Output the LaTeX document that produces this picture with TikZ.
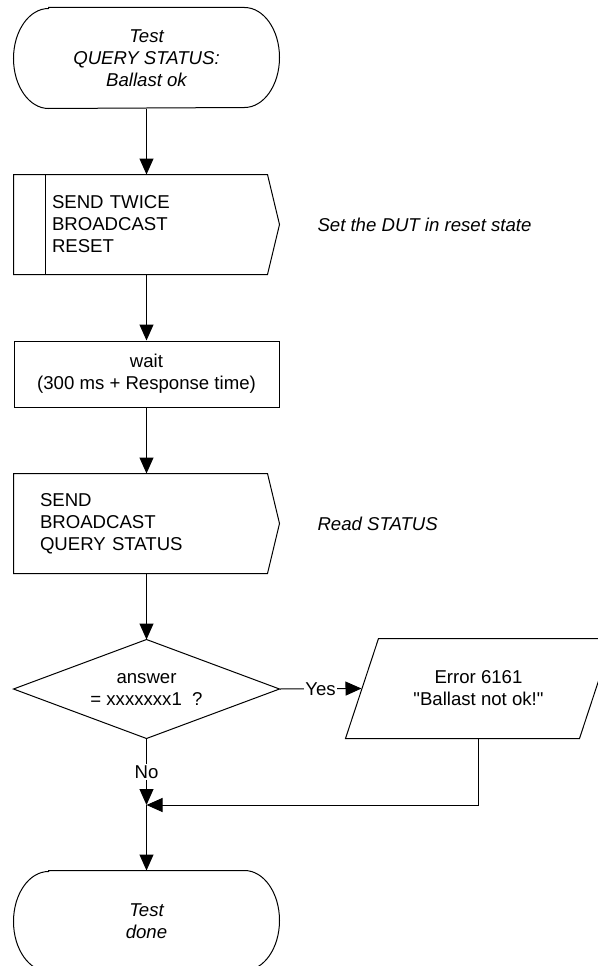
\documentclass[tikz,border=0pt]{standalone}
\usepackage{fontspec}
\setmainfont{Liberation Sans}[Ligatures=TeXOff]
\usetikzlibrary{arrows.meta,calc}
\begin{document}
\begin{tikzpicture}[x=1pt,y=-1pt,line width=1pt,
  every node/.style={font=\fontsize{18.6}{22}\selectfont, inner sep=0pt},
  itxt/.style={font=\fontsize{18.6}{22}\selectfont\itshape},
  shapebox/.style={rectangle, minimum width=265pt, minimum height=#1},
  arr/.style={-{Triangle[width=14pt,length=16pt]}},
  lbl/.style={fill=white, inner sep=1.5pt}]
\useasboundingbox (0,0) rectangle (597,966);

% start terminal
\node[shapebox=100pt, align=center, itxt] (start) at (146.5,58) {Test\\QUERY STATUS:\\Ballast ok};
\draw ($(start.north west)+(35,0)$) -- ($(start.north east)+(-35,0)$)
  arc[start angle=90,end angle=-90,x radius=35pt,y radius=50pt]
  -- ($(start.south west)+(35,0)$)
  arc[start angle=270,end angle=90,x radius=35pt,y radius=50pt] -- cycle;

% send twice reset
\node[shapebox=99pt, text width=189pt, align=left] (reset) at (146.5,224.5) {SEND TWICE\\BROADCAST\\RESET};
\draw (reset.north west) -- ($(reset.north east)+(-12,0)$) -- (reset.east)
  -- ($(reset.south east)+(-12,0)$) -- (reset.south west) -- cycle;
\draw ($(reset.north west)+(32,0)$) -- ($(reset.south west)+(32,0)$);
\node[anchor=west, itxt] (ann1) at (317,224.5) {Set the DUT in reset state};

% wait
\node[shapebox=66pt, draw, align=center] (wait) at (146.5,374) {wait\\(300 ms + Response time)};

% send query status
\node[shapebox=99pt, text width=213pt, align=left] (query) at (146.5,523.5) {SEND\\BROADCAST\\QUERY STATUS};
\draw (query.north west) -- ($(query.north east)+(-12,0)$) -- (query.east)
  -- ($(query.south east)+(-12,0)$) -- (query.south west) -- cycle;
\node[anchor=west, itxt] (ann2) at (317,523.5) {Read STATUS};

% decision
\node[shapebox=98pt, align=center] (dec) at (146.5,689) {answer\\= xxxxxxx1\ \ ?};
\draw (dec.north) -- (dec.east) -- (dec.south) -- (dec.west) -- cycle;

% error
\node[rectangle, minimum width=233pt, minimum height=99pt, align=center] (err) at (478.5,688.5) {Error 6161\\"Ballast not ok!"};
\draw ($(err.north west)+(17,0)$) -- ($(err.north east)+(17,0)$)
  -- ($(err.south east)+(-16,0)$) -- ($(err.south west)+(-16,0)$) -- cycle;

% end terminal
\node[shapebox=100pt, align=center, itxt] (stop) at (146.5,921) {Test\\done};
\draw ($(stop.north west)+(35,0)$) -- ($(stop.north east)+(-35,0)$)
  arc[start angle=90,end angle=-90,x radius=35pt,y radius=50pt]
  -- ($(stop.south west)+(35,0)$)
  arc[start angle=270,end angle=90,x radius=35pt,y radius=50pt] -- cycle;

% connectors
\coordinate (j) at (146.5,805);
\draw[arr] (start.south) -- (reset.north);
\draw[arr] (reset.south) -- (wait.north);
\draw[arr] (wait.south) -- (query.north);
\draw[arr] (query.south) -- (dec.north);
\draw[arr] (dec.east) -- node[lbl] (yes) {Yes} (err.west);
\draw[arr] (dec.south) -- node[lbl] (no) {No} (j);
\draw[arr] (err.south) |- (j);
\draw[arr] (j) -- (stop.north);
\end{tikzpicture}
\end{document}
